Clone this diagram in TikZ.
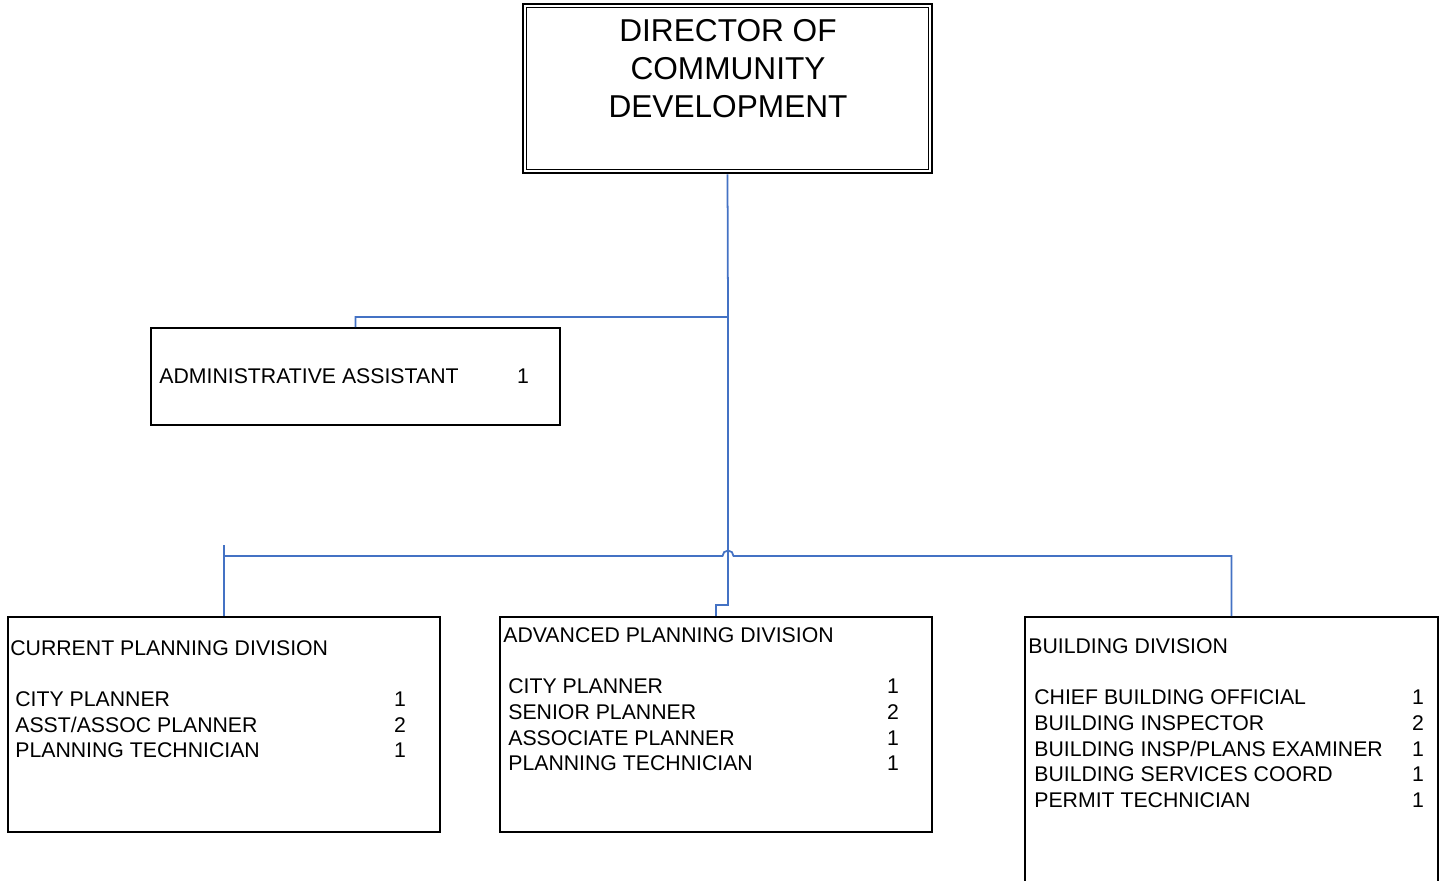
\documentclass[tikz,border=0pt]{standalone}
\usepackage{fontspec}
\setmainfont{Liberation Sans}
\definecolor{linkblue}{HTML}{4472C4}

\begin{document}
\begin{tikzpicture}[x=0.02cm,y=-0.02cm,
  box/.style={draw,line width=1.1pt,inner sep=0pt},
  link/.style={draw=linkblue,line width=1pt},
  role/.style={anchor=base west,inner sep=0pt,font=\fontsize{12.1}{14}\selectfont},
  count/.style={anchor=base,inner sep=0pt,font=\fontsize{12.1}{14}\selectfont}]

  \useasboundingbox (0,0) rectangle (1446,880);

  % boxes
  \node[box,line width=1.6pt,minimum width=8.18cm,minimum height=3.38cm] (dir) at (727.5,88.5) {};
  \draw[line width=0.8pt] ([shift={(5,5)}]dir.north west) rectangle ([shift={(-5,-5)}]dir.south east);
  \node[box,minimum width=8.18cm,minimum height=1.94cm] (admin) at (355.5,376.5) {};
  \node[box,minimum width=8.64cm,minimum height=4.3cm] (cur) at (224,724.5) {};
  \node[box,minimum width=8.64cm,minimum height=4.3cm] (adv) at (716,724.5) {};
  \node[box,minimum width=8.26cm,minimum height=5.46cm] (bld) at (1231.5,753.5) {};

  \node[anchor=north,inner sep=0pt,align=center,font=\fontsize{18}{21.8}\selectfont] (dirtxt) at (728,18.6)
    {DIRECTOR OF\\COMMUNITY\\DEVELOPMENT};

  \node[role] (admin1) at (159,383.6) {ADMINISTRATIVE ASSISTANT};
  \node[count] (adminn1) at (523,383.6) {1};

  \node[role] (curt) at (10,655.6) {CURRENT PLANNING DIVISION};
  \node[role] (cur1) at (15,706.6) {CITY PLANNER};
  \node[role] (cur2) at (15,732.1) {ASST/ASSOC PLANNER};
  \node[role] (cur3) at (15,757.6) {PLANNING TECHNICIAN};
  \node[count] (curn1) at (400,706.6) {1};
  \node[count] (curn2) at (400,732.1) {2};
  \node[count] (curn3) at (400,757.6) {1};

  \node[role] (advt) at (503,642.6) {ADVANCED PLANNING DIVISION};
  \node[role] (adv1) at (508,693.6) {CITY PLANNER};
  \node[role] (adv2) at (508,719.4) {SENIOR PLANNER};
  \node[role] (adv3) at (508,745) {ASSOCIATE PLANNER};
  \node[role] (adv4) at (508,770.6) {PLANNING TECHNICIAN};
  \node[count] (advn1) at (893,693.6) {1};
  \node[count] (advn2) at (893,719.4) {2};
  \node[count] (advn3) at (893,745) {1};
  \node[count] (advn4) at (893,770.6) {1};

  \node[role] (bldt) at (1028,653.6) {BUILDING DIVISION};
  \node[role] (bld1) at (1034,704.6) {CHIEF BUILDING OFFICIAL};
  \node[role] (bld2) at (1034,730.3) {BUILDING INSPECTOR};
  \node[role] (bld3) at (1034,756) {BUILDING INSP/PLANS EXAMINER};
  \node[role] (bld4) at (1034,781.7) {BUILDING SERVICES COORD};
  \node[role] (bld5) at (1034,807.4) {PERMIT TECHNICIAN};
  \node[count] (bldn1) at (1418,704.6) {1};
  \node[count] (bldn2) at (1418,730.3) {2};
  \node[count] (bldn3) at (1418,756) {1};
  \node[count] (bldn4) at (1418,781.7) {1};
  \node[count] (bldn5) at (1418,807.4) {1};

  % connectors
  \coordinate (split) at (728,317);
  \coordinate (drop) at (728,605);
  \coordinate (busL) at (224,545);
  \coordinate (hopL) at (722.5,556);

  \draw[link] (dir.south) -- (split) -| (admin.north);
  \draw[link] (split) -- (drop) -| (adv.north);
  \draw[link] (busL) -- (cur.north);
  \draw[link] (busL |- hopL) -- (hopL) arc[start angle=180,end angle=0,radius=0.11cm] -| (bld.north);

\end{tikzpicture}
\end{document}
